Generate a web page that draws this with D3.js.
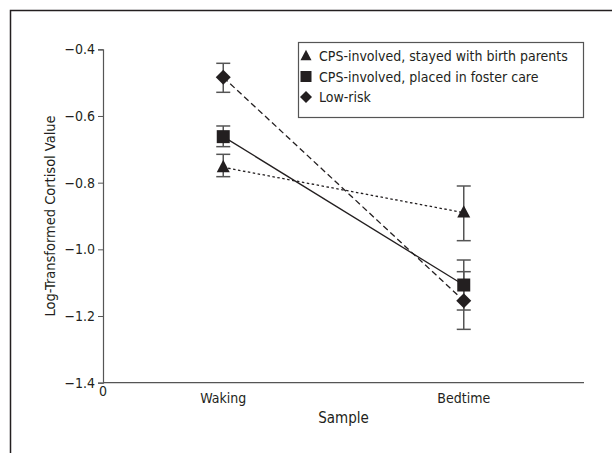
<!DOCTYPE html>
<html>
<head>
<meta charset="utf-8">
<script src="https://cdn.jsdelivr.net/npm/d3@7"></script>
<style>
  body { margin: 0; background: #fff; }
  text { font-family: "DejaVu Sans Condensed", "Liberation Sans Narrow", sans-serif; fill: #231f20; }
</style>
</head>
<body>
<script>
// Data
var samples = ["Waking", "Bedtime"];
var samplePos = [1, 3];
var groups = ["CPS-involved, stayed with birth parents", "CPS-involved, placed in foster care", "Low-risk"];
var means = [[-0.754, -0.890], [-0.662, -1.107], [-0.484, -1.154]];
var errLo = [[-0.782, -0.974], [-0.692, -1.182], [-0.529, -1.240]];
var errHi = [[-0.715, -0.810], [-0.630, -1.032], [-0.442, -1.067]];
var yTicks = [-0.4, -0.6, -0.8, -1.0, -1.2, -1.4];
var markers = ["triangle", "square", "diamond"];
var dashes = ["2.5,2.5", null, "6,3.5"];

var w = 612, h = 453;
var svg = d3.select("body").append("svg")
  .attr("width", w)
  .attr("height", h);

// outer frame (cropped figure border)
svg.append("path")
  .attr("d", "M10.5," + h + "V10.5H" + w)
  .attr("fill", "none")
  .attr("stroke", "#231f20")
  .attr("stroke-width", 1.5);

var x = d3.scaleLinear().domain([0, 4]).range([103, 584]);
var y = d3.scaleLinear().domain([-1.4, -0.4]).range([382.7, 49.3]);

// y axis
var yAxis = svg.append("g")
  .attr("transform", "translate(" + x(0) + ",0)")
  .call(d3.axisLeft(y).tickValues(yTicks).tickSize(5).tickPadding(3)
    .tickFormat(function(d) { return d3.format(".1f")(d).replace("-", "\u2212"); }));
yAxis.select(".domain").attr("stroke", "#555").attr("stroke-width", 1.2);
yAxis.selectAll(".tick line").attr("stroke", "#555");
yAxis.selectAll(".tick text").style("font-size", "14px").attr("fill", "#231f20")
  .style("font-family", "'DejaVu Sans Condensed', sans-serif");

// x axis
svg.append("line")
  .attr("x1", x(0)).attr("x2", x(4))
  .attr("y1", y(-1.4)).attr("y2", y(-1.4))
  .attr("stroke", "#555").attr("stroke-width", 1.2);

svg.append("text")
  .attr("x", x(0)).attr("y", 396)
  .attr("text-anchor", "middle")
  .style("font-size", "14px")
  .text("0");

svg.selectAll("text.xlab")
  .data(samples)
  .enter().append("text")
  .attr("class", "xlab")
  .attr("x", function(d, i) { return x(samplePos[i]); })
  .attr("y", 403)
  .attr("text-anchor", "middle")
  .style("font-size", "14px")
  .text(function(d) { return d; });

// axis titles
svg.append("text")
  .attr("x", x(2)).attr("y", 423)
  .attr("text-anchor", "middle")
  .style("font-size", "15px")
  .text("Sample");

svg.append("text")
  .attr("transform", "translate(55," + ((y(-0.4) + y(-1.4)) / 2) + ") rotate(-90)")
  .attr("text-anchor", "middle")
  .style("font-size", "14.5px")
  .text("Log-Transformed Cortisol Value");

// symbol helper
function symbolPath(type, size) {
  var s = size / 2;
  if (type == "triangle") return "M0," + (-s * 1.15) + "L" + s + "," + (s * 0.75) + "L" + (-s) + "," + (s * 0.75) + "Z";
  if (type == "square") return "M" + (-s) + "," + (-s) + "H" + s + "V" + s + "H" + (-s) + "Z";
  return "M0," + (-s) + "L" + s + ",0L0," + s + "L" + (-s) + ",0Z";
}

// error bars
groups.forEach(function(g, gi) {
  samplePos.forEach(function(p, si) {
    var cx = x(p);
    var eb = svg.append("g").attr("stroke", "#555").attr("stroke-width", 1.5);
    eb.append("line").attr("x1", cx).attr("x2", cx).attr("y1", y(errHi[gi][si])).attr("y2", y(errLo[gi][si]));
    eb.append("line").attr("x1", cx - 7).attr("x2", cx + 7).attr("y1", y(errHi[gi][si])).attr("y2", y(errHi[gi][si]));
    eb.append("line").attr("x1", cx - 7).attr("x2", cx + 7).attr("y1", y(errLo[gi][si])).attr("y2", y(errLo[gi][si]));
  });
});

// lines
var line = d3.line()
  .x(function(d, i) { return x(samplePos[i]); })
  .y(function(d) { return y(d); });

groups.forEach(function(g, gi) {
  svg.append("path")
    .attr("d", line(means[gi]))
    .attr("fill", "none")
    .attr("stroke", "#231f20")
    .attr("stroke-width", 1.3)
    .attr("stroke-dasharray", dashes[gi]);
});

// markers
groups.forEach(function(g, gi) {
  svg.selectAll("path.m" + gi)
    .data(means[gi])
    .enter().append("path")
    .attr("class", "m" + gi)
    .attr("transform", function(d, i) { return "translate(" + x(samplePos[i]) + "," + y(d) + ")"; })
    .attr("d", symbolPath(markers[gi], markers[gi] == "diamond" ? 15 : 13))
    .attr("fill", "#231f20");
});

// legend
svg.append("rect")
  .attr("x", 298.5).attr("y", 42.5)
  .attr("width", 285).attr("height", 75)
  .attr("fill", "#fff")
  .attr("stroke", "#555")
  .attr("stroke-width", 1.2);

var legend = svg.selectAll("g.legend")
  .data(groups)
  .enter().append("g")
  .attr("class", "legend")
  .attr("transform", function(d, i) { return "translate(0," + (i * 20.5) + ")"; });

legend.append("path")
  .attr("transform", "translate(306,56)")
  .attr("d", function(d, i) { return symbolPath(markers[i], markers[i] == "diamond" ? 12 : 11); })
  .attr("fill", "#231f20");

legend.append("text")
  .attr("x", 319)
  .attr("y", 61)
  .style("font-size", "14px")
  .text(function(d) { return d; });
</script>
</body>
</html>
